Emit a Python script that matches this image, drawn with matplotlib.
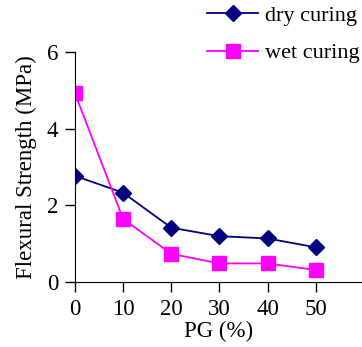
import matplotlib
matplotlib.use("Agg")
import matplotlib.pyplot as plt

pg = [0, 10, 20, 30, 40, 50]
dry = [2.77, 2.33, 1.42, 1.2, 1.14, 0.91]
wet = [4.92, 1.65, 0.74, 0.49, 0.49, 0.32]

plt.rcParams['font.family'] = 'Liberation Serif'
plt.rcParams['font.size'] = 16.5

fig = plt.figure(figsize=(3.62, 3.47), dpi=100)
ax = fig.add_axes([0.207, 0.1865, 0.793, 0.6645])

ax.plot(pg, dry, color='#000080', marker='D', markersize=8.3, linewidth=1.3, label='dry curing')
ax.plot(pg, wet, color='#FF00FF', marker='s', markersize=10, linewidth=1.3, label='wet curing')

ax.set_xlim(0, 59.6)
ax.set_ylim(0, 6)
ax.set_xticks(pg)
ax.set_yticks([0, 2, 4, 6])
ax.spines['top'].set_visible(False)
ax.spines['right'].set_visible(False)
ax.tick_params(direction='out', length=7, width=1, pad=5)
ax.set_xlabel('PG (%)', labelpad=1)
ax.set_ylabel('Flexural Strength (MPa)', labelpad=7)

ax.legend(loc='upper right', bbox_to_anchor=(1.0, 0.99), bbox_transform=fig.transFigure,
          frameon=False, fontsize=16, handlelength=2.3, handletextpad=0.3, labelspacing=0.75,
          borderaxespad=0.0, borderpad=0.1)

fig.savefig('out.png', dpi=100)
